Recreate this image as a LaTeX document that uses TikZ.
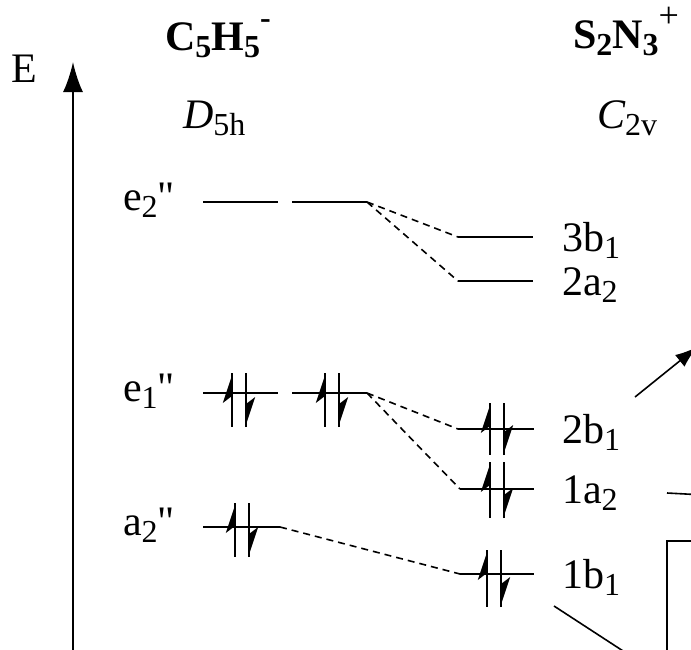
\documentclass[tikz,border=0pt]{standalone}
\usepackage{fontspec}
\setmainfont{Liberation Serif}[Ligatures=TeXOff]
\usetikzlibrary{arrows.meta}
\newcommand\sbx[1]{\raisebox{-0.17em}{\fontsize{32}{34}\selectfont #1}}
\newcommand\elpair[4]{%
  \draw[spinline] (#1,#3) -- (#1,#4);
  \fill (#1+0.8,#3) -- ++(-10,30) -- ++(9.2,-7) -- cycle;
  \draw[spinline] (#2,#3) -- (#2,#4);
  \fill (#2-0.8,#4) -- ++(10,-30) -- ++(-9.2,7) -- cycle;}
\tikzset{
  every node/.style={font=\fontsize{42}{50}\selectfont, inner sep=0pt, outer sep=0pt},
  level/.style={line width=2pt},
  spinline/.style={line width=2pt},
  corr/.style={line width=1.6pt, dash pattern=on 7pt off 5pt},
  lab/.style={anchor=base west},
}
\begin{document}
\begin{tikzpicture}[x=1pt,y=-1pt]
\useasboundingbox (0,0) rectangle (691,649);
\clip (0,0) rectangle (691,649);
\fill[white] (0,0) rectangle (691,649);

% energy axis
\node[lab] (E) at (12,82) {E};
\coordinate (axbot) at (73,652);
\coordinate (axtop) at (73,62);
\draw[line width=2.2pt, -{Latex[length=30pt,width=20pt]}] (axbot) -- (axtop);

% titles
\node[lab] (t1) at (165,50) {\bfseries C\sbx{5}H\sbx{5}\raisebox{0.52em}{\fontsize{32}{34}\selectfont -}};
\node[lab] (t2) at (573,48) {\bfseries S\sbx{2}N\sbx{3}\raisebox{0.48em}{\mdseries\fontsize{36}{38}\selectfont +}};
\node[lab] (g1) at (183,128) {\itshape D\upshape\sbx{5h}};
\node[lab] (g2) at (597,128) {\itshape C\upshape\sbx{2v}};

% left levels
\coordinate (e2aL) at (203,202); \coordinate (e2aR) at (278,202);
\coordinate (e2bL) at (292,202); \coordinate (e2bR) at (367,202);
\coordinate (e1aL) at (203,393); \coordinate (e1aR) at (278,393);
\coordinate (e1bL) at (292,393); \coordinate (e1bR) at (367,393);
\coordinate (a2L) at (203,527); \coordinate (a2R) at (280,527);
\draw[level] (e2aL) -- (e2aR);
\draw[level] (e2bL) -- (e2bR);
\draw[level] (e1aL) -- (e1aR);
\draw[level] (e1bL) -- (e1bR);
\draw[level] (a2L) -- (a2R);
\node[lab] (le2) at (123,210) {e\sbx{2}"};
\node[lab] (le1) at (123,401) {e\sbx{1}"};
\node[lab] (la2) at (123,535) {a\sbx{2}"};

% right levels
\coordinate (b3L) at (458,237); \coordinate (b3R) at (533,237);
\coordinate (a22L) at (458,281); \coordinate (a22R) at (533,281);
\coordinate (b2L) at (458,429); \coordinate (b2R) at (534,429);
\coordinate (a12L) at (460,489); \coordinate (a12R) at (534,489);
\coordinate (b1L) at (460,574); \coordinate (b1R) at (534,574);
\draw[level] (b3L) -- (b3R);
\draw[level] (a22L) -- (a22R);
\draw[level] (b2L) -- (b2R);
\draw[level] (a12L) -- (a12R);
\draw[level] (b1L) -- (b1R);
\node[lab] (l3b1) at (562,251) {3b\sbx{1}};
\node[lab] (l2a2) at (562,295) {2a\sbx{2}};
\node[lab] (l2b1) at (562,443) {2b\sbx{1}};
\node[lab] (l1a2) at (562,503) {1a\sbx{2}};
\node[lab] (l1b1) at (562,588) {1b\sbx{1}};

% correlation lines
\draw[corr] (e2bR) -- (b3L);
\draw[corr] (e2bR) -- (a22L);
\draw[corr] (e1bR) -- (b2L);
\draw[corr] (e1bR) -- (a12L);
\draw[corr] (a2R) -- (b1L);

% electrons
\elpair{232}{246}{373}{427}
\elpair{325}{339}{373}{427}
\elpair{235}{249}{503}{557}
\elpair{490}{504}{403}{455}
\elpair{490}{504}{462}{518}
\elpair{487}{501}{550}{607}

% partial items at the right edge
\coordinate (arS) at (635,397); \coordinate (arE) at (697,347);
\draw[line width=1.6pt, -{Latex[length=22pt,width=15pt]}] (arS) -- (arE);
\coordinate (hS) at (667,493); \coordinate (hE) at (695,494.5);
\draw[line width=1.6pt] (hS) -- (hE);
\coordinate (bx1) at (667,652); \coordinate (bx2) at (667,541); \coordinate (bx3) at (695,541);
\draw[line width=2pt] (bx1) -- (bx2) -- (bx3);
\coordinate (dS) at (554,606); \coordinate (dE) at (640,662);
\draw[line width=1.6pt] (dS) -- (dE);
\end{tikzpicture}
\end{document}
